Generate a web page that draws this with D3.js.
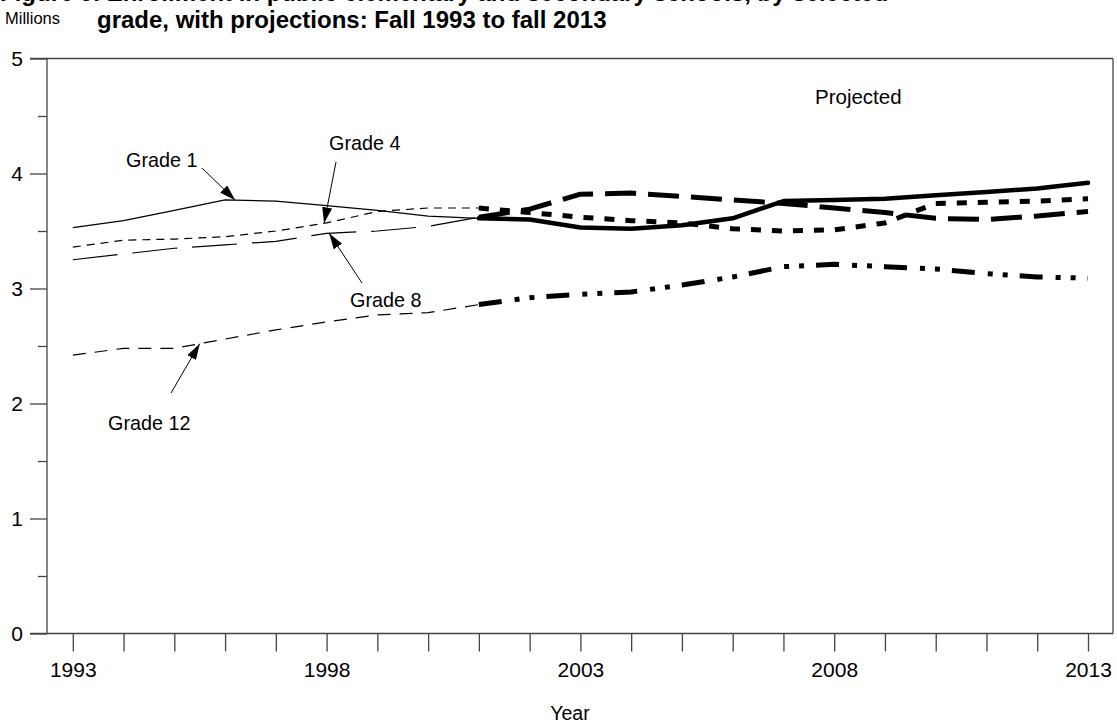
<!DOCTYPE html>
<html><head><meta charset="utf-8">
<script src="https://cdn.jsdelivr.net/npm/d3@7"></script>
<style>
html,body{margin:0;padding:0;background:#fff;}
svg{display:block;font-family:"Liberation Sans",Arial,sans-serif;}
</style></head>
<body>
<svg id="chart" width="1117" height="725"></svg>
<script>
// ---- data ----
const years = [1993,1994,1995,1996,1997,1998,1999,2000,2001,2002,2003,2004,2005,2006,2007,2008,2009,2010,2011,2012,2013];
const lastActualYear = 2001;
const grade1  = [3.53,3.59,3.68,3.77,3.76,3.72,3.68,3.63,3.61,3.60,3.53,3.52,3.55,3.61,3.76,3.77,3.78,3.81,3.84,3.87,3.92];
const grade4  = [3.36,3.42,3.43,3.45,3.50,3.57,3.67,3.70,3.70,3.66,3.62,3.59,3.57,3.52,3.50,3.51,3.57,3.74,3.75,3.76,3.78];
const grade8  = [3.25,3.30,3.35,3.38,3.41,3.48,3.50,3.54,3.62,3.69,3.82,3.83,3.80,3.77,3.74,3.70,3.66,3.61,3.60,3.63,3.67];
const grade12 = [2.42,2.48,2.48,2.56,2.64,2.71,2.77,2.79,2.86,2.92,2.95,2.97,3.03,3.10,3.19,3.21,3.19,3.17,3.13,3.10,3.09];
const yTicks = [0,1,2,3,4,5];
const xTickLabels = [1993,1998,2003,2008,2013];
const seriesNames = ["Grade 1","Grade 4","Grade 8","Grade 12"];

// ---- layout / styles ----
const svg = d3.select("#chart");
const pLeft = 47, pRight = 1113, pTop = 58.5, pBottom = 633.5;
const x = d3.scaleLinear().domain([1993,2013]).range([72.8,1088]);
const y = d3.scaleLinear().domain([0,5]).range([pBottom, pTop]);
const axisColor = "#444";
const FONT = "Liberation Sans, Arial, sans-serif";

const styles = {
  "Grade 1":  {hist:{w:1.2,dash:null},     proj:{w:4.5,dash:null}},
  "Grade 4":  {hist:{w:1.2,dash:"8,6"},    proj:{w:5,dash:"10,11"}},
  "Grade 8":  {hist:{w:1.2,dash:"45,15"},  proj:{w:5,dash:"31,12"}},
  "Grade 12": {hist:{w:1.2,dash:"13,9"},   proj:{w:5,dash:"23,13,5,10,5,12"}}
};
const seriesVals = {"Grade 1":grade1,"Grade 4":grade4,"Grade 8":grade8,"Grade 12":grade12};

// title
svg.append("text").attr("x",0).attr("y",1).attr("font-size",24).attr("font-weight","bold")
  .text("Figure 9. Enrollment in public elementary and secondary schools, by selected");
svg.append("text").attr("x",97).attr("y",28).attr("font-size",24).attr("font-weight","bold")
  .text("grade, with projections: Fall 1993 to fall 2013");
svg.append("text").attr("x",5).attr("y",24).attr("font-size",16.5).text("Millions");

// frame
const g = svg.append("g");
g.append("line").attr("x1",30).attr("x2",pRight).attr("y1",pTop).attr("y2",pTop).attr("stroke",axisColor).attr("stroke-width",1.3);
g.append("line").attr("x1",30).attr("x2",pRight).attr("y1",pBottom).attr("y2",pBottom).attr("stroke",axisColor).attr("stroke-width",1.3);
g.append("line").attr("x1",pLeft).attr("x2",pLeft).attr("y1",pTop).attr("y2",pBottom).attr("stroke",axisColor).attr("stroke-width",1.3);
g.append("line").attr("x1",pRight).attr("x2",pRight).attr("y1",pTop).attr("y2",pBottom).attr("stroke",axisColor).attr("stroke-width",1.3);

// y axis ticks
const yAxis = d3.axisLeft(y).tickValues(yTicks).tickSize(17).tickPadding(7).tickFormat(d3.format("d"));
const ya = svg.append("g").attr("transform",`translate(${pLeft},0)`).call(yAxis);
ya.select(".domain").remove();
ya.selectAll("line").attr("stroke",axisColor).attr("stroke-width",1.3);
ya.selectAll("text").attr("font-size",21).attr("font-family",FONT).attr("fill","#000");
const yMinor = d3.axisLeft(y).tickValues([0.5,1.5,2.5,3.5,4.5]).tickSize(9).tickFormat("");
const ym = svg.append("g").attr("transform",`translate(${pLeft},0)`).call(yMinor);
ym.select(".domain").remove();
ym.selectAll("line").attr("stroke",axisColor).attr("stroke-width",1.3);

// x axis ticks
const xAxis = d3.axisBottom(x).tickValues(years).tickSize(18).tickPadding(11)
  .tickFormat(d => xTickLabels.includes(d) ? String(d) : "");
const xa = svg.append("g").attr("transform",`translate(0,${pBottom})`).call(xAxis);
xa.select(".domain").remove();
xa.selectAll("line").attr("stroke",axisColor).attr("stroke-width",1.3);
xa.selectAll("text").attr("font-size",21).attr("font-family",FONT).attr("fill","#000");

svg.append("text").attr("x",570).attr("y",720).attr("text-anchor","middle").attr("font-size",19.5).text("Year");

// lines
const line = d3.line().x(d=>x(d.year)).y(d=>y(d.v)).curve(d3.curveLinear);
seriesNames.forEach(name=>{
  const vals = seriesVals[name];
  const pts = years.map((yr,i)=>({year:yr,v:vals[i]}));
  const hist = pts.filter(p=>p.year<=lastActualYear);
  const proj = pts.filter(p=>p.year>=lastActualYear);
  const st = styles[name];
  svg.append("path").datum(hist).attr("d",line).attr("fill","none").attr("stroke","#000")
    .attr("stroke-width",st.hist.w).attr("stroke-dasharray",st.hist.dash);
  svg.append("path").datum(proj).attr("d",line).attr("fill","none").attr("stroke","#000")
    .attr("stroke-width",st.proj.w).attr("stroke-dasharray",st.proj.dash)
    .attr("stroke-linecap", st.proj.dash ? "butt" : "round").attr("stroke-linejoin","round");
});

// annotations
const defs = svg.append("defs");
defs.append("marker").attr("id","arr").attr("viewBox","0 0 16 10").attr("refX",16).attr("refY",5)
  .attr("markerWidth",16).attr("markerHeight",10).attr("markerUnits","userSpaceOnUse").attr("orient","auto")
  .append("path").attr("d","M0,0 L16,5 L0,10 Z").attr("fill","#000");

function valAt(name, yr){
  const vals = seriesVals[name];
  return d3.scaleLinear().domain(years).range(vals)(yr);
}
const annots = [
  {name:"Grade 1",  tipYear:1996.2, tx:126, ty:167, lx:202, ly:168},
  {name:"Grade 4",  tipYear:1997.95, tx:329, ty:150, lx:336, ly:162},
  {name:"Grade 8",  tipYear:1998.05, tx:350, ty:307, lx:362, ly:283},
  {name:"Grade 12", tipYear:1995.5, tx:108, ty:430, lx:171, ly:393}
];
annots.forEach(a=>{
  const tx = x(a.tipYear), ty = y(valAt(a.name,a.tipYear));
  svg.append("line").attr("x1",a.lx).attr("y1",a.ly).attr("x2",tx).attr("y2",ty)
    .attr("stroke","#000").attr("stroke-width",1).attr("marker-end","url(#arr)");
  svg.append("text").attr("x",a.tx).attr("y",a.ty).attr("font-size",19.8).text(a.name);
});
svg.append("text").attr("x",815).attr("y",104).attr("font-size",20.5).text("Projected");
</script>
</body></html>
